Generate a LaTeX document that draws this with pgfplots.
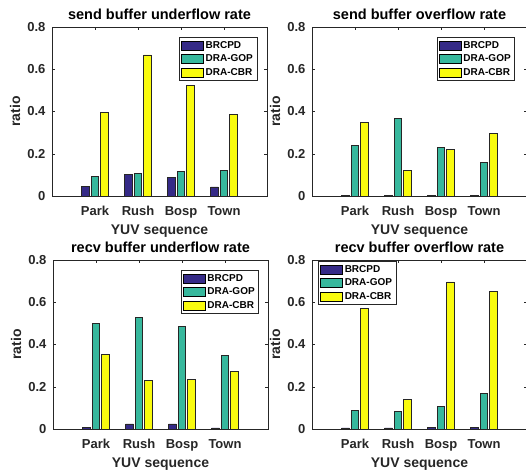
\documentclass[border=0pt]{standalone}
\usepackage{pgfplots}
\pgfplotsset{compat=1.18}
\usepackage{fontspec}
\setmainfont{Liberation Sans}
\definecolor{cA}{RGB}{53,42,135}
\definecolor{cB}{RGB}{55,184,157}
\definecolor{cC}{RGB}{249,251,14}
\definecolor{axc}{RGB}{38,38,38}
\pgfplotsset{
 myax/.style={
  scale only axis, width=215pt, height=169pt,
  anchor=south west,
  xmin=0, xmax=5, ymin=0, ymax=0.8,
  xtick={1,2,3,4}, xticklabels={Park,Rush,Bosp,Town},
  ytick={0,0.2,0.4,0.6,0.8}, yticklabels={0,0.2,0.4,0.6,0.8},
  tick align=inside, major tick length=3pt,
  axis line style={axc, line width=0.5pt},
  every tick/.style={axc, line width=0.5pt},
  tick label style={font=\fontsize{13}{15}\selectfont\bfseries, text=axc},
  xticklabel style={anchor=base, yshift=-19pt},
  yticklabel style={anchor=east, xshift=-3pt},
  xlabel={YUV sequence}, ylabel={ratio},
  label style={font=\fontsize{14}{16}\selectfont\bfseries, text=axc},
  xlabel style={at={(axis description cs:0.5,0)}, anchor=base, yshift=-38pt},
  ylabel style={at={(axis description cs:-0.172,0.5)}, anchor=center},
  title style={font=\fontsize{14.5}{17}\selectfont\bfseries, text=black, at={(axis description cs:0.5,1)}, anchor=base, yshift=2pt},
  legend style={draw=axc, line width=0.5pt, fill=white, font=\fontsize{10}{12}\selectfont\bfseries, inner sep=2pt, row sep=1pt, text=black},
  legend cell align=left,
 },
 bA/.style={ybar, bar width=0.178, bar shift=-0.222, fill=cA, draw=black!85, line width=0.7pt,
   legend image code/.code={\draw[fill=cA, draw=black, line width=0.5pt] (0pt,-4.5pt) rectangle (22pt,4.5pt);}},
 bB/.style={ybar, bar width=0.178, bar shift=0, fill=cB, draw=black!85, line width=0.7pt,
   legend image code/.code={\draw[fill=cB, draw=black, line width=0.5pt] (0pt,-4.5pt) rectangle (22pt,4.5pt);}},
 bC/.style={ybar, bar width=0.178, bar shift=0.222, fill=cC, draw=black!85, line width=0.7pt,
   legend image code/.code={\draw[fill=cC, draw=black, line width=0.5pt] (0pt,-4.5pt) rectangle (22pt,4.5pt);}},
}
\begin{document}
\begin{tikzpicture}
\path[use as bounding box] (0pt,0pt) rectangle (526pt,469pt);
% top-left
\begin{axis}[myax, at={(52pt,273pt)}, title={send buffer underflow rate},
  legend style={at={(0.954,0.941)}, anchor=north east}]
\addplot[bA] coordinates {(1,0.047) (2,0.102) (3,0.087) (4,0.043)};
\addplot[bB] coordinates {(1,0.094) (2,0.105) (3,0.117) (4,0.123)};
\addplot[bC] coordinates {(1,0.395) (2,0.668) (3,0.523) (4,0.387)};
\legend{BRCPD,DRA-GOP,DRA-CBR}
\end{axis}
% top-right
\begin{axis}[myax, at={(312pt,273pt)}, title={send buffer overflow rate},
  legend style={at={(0.944,0.941)}, anchor=north east}]
\addplot[bA] coordinates {(1,0.002) (2,0.002) (3,0.002) (4,0.002)};
\addplot[bB] coordinates {(1,0.241) (2,0.368) (3,0.231) (4,0.159)};
\addplot[bC] coordinates {(1,0.348) (2,0.121) (3,0.222) (4,0.296)};
\legend{BRCPD,DRA-GOP,DRA-CBR}
\end{axis}
% bottom-left
\begin{axis}[myax, at={(53pt,40pt)}, title={recv buffer underflow rate},
  legend style={at={(0.958,0.941)}, anchor=north east}]
\addplot[bA] coordinates {(1,0.009) (2,0.024) (3,0.024) (4,0.005)};
\addplot[bB] coordinates {(1,0.498) (2,0.529) (3,0.487) (4,0.350)};
\addplot[bC] coordinates {(1,0.353) (2,0.229) (3,0.233) (4,0.271)};
\legend{BRCPD,DRA-GOP,DRA-CBR}
\end{axis}
% bottom-right
\begin{axis}[myax, at={(312pt,40pt)}, title={recv buffer overflow rate},
  legend style={at={(0.028,0.995)}, anchor=north west}]
\addplot[bA] coordinates {(1,0.005) (2,0.005) (3,0.009) (4,0.009)};
\addplot[bB] coordinates {(1,0.088) (2,0.082) (3,0.106) (4,0.167)};
\addplot[bC] coordinates {(1,0.569) (2,0.139) (3,0.696) (4,0.652)};
\legend{BRCPD,DRA-GOP,DRA-CBR}
\end{axis}
\end{tikzpicture}
\end{document}
